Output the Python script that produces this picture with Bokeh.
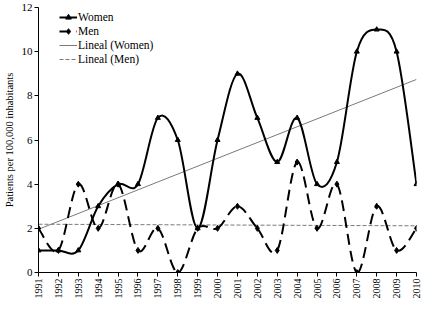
import numpy as np
from bokeh.plotting import figure
from bokeh.models import Range1d, Legend, LegendItem, FixedTicker, ColumnDataSource
from bokeh.embed import file_html
from bokeh.resources import INLINE

years = list(range(1991, 2011))
women = [1, 1, 1, 3, 4, 4, 7, 6, 2, 6, 9, 7, 5, 7, 4, 5, 10, 11, 10, 4]
men = [2, 1, 4, 2, 4, 1, 2, 0, 2, 2, 3, 2, 1, 5, 2, 4, 0, 3, 1, 2]
y_ticks = [0, 2, 4, 6, 8, 10, 12]

FONT = "Liberation Serif"


def smooth_segments(xs, ys, k=1.0 / 6.0):
    x = np.asarray(xs, dtype=float)
    y = np.asarray(ys, dtype=float)
    xp = np.concatenate([[x[0]], x, [x[-1]]])
    yp = np.concatenate([[y[0]], y, [y[-1]]])
    n = len(x)
    i = np.arange(n - 1)
    return dict(
        x0=x[:-1], y0=y[:-1], x1=x[1:], y1=y[1:],
        cx0=x[i] + (xp[i + 2] - xp[i]) * k, cy0=y[i] + (yp[i + 2] - yp[i]) * k,
        cx1=x[i + 1] - (xp[i + 3] - xp[i + 1]) * k, cy1=y[i + 1] - (yp[i + 3] - yp[i + 1]) * k,
    )


p = figure(frame_width=378, frame_height=265, output_backend="svg", toolbar_location=None,
           x_range=Range1d(1991, 2010), y_range=Range1d(0, 12),
           min_border_left=35, min_border_right=5, min_border_top=7, min_border_bottom=28)
p.grid.visible = False
p.outline_line_color = None
p.background_fill_color = "white"

# trend lines
cw = np.polyfit(years, women, 1)
cm = np.polyfit(years, men, 1)
tx = [years[0], years[-1]]
tw = p.line(tx, [cw[0] * t + cw[1] for t in tx], line_color="#7a7a7a", line_width=1)
tm = p.line(tx, [cm[0] * t + cm[1] for t in tx], line_color="#7a7a7a", line_width=1, line_dash="4 2")

sw = ColumnDataSource(smooth_segments(years, women))
sm = ColumnDataSource(smooth_segments(years, men))
bw = p.bezier(x0="x0", y0="y0", x1="x1", y1="y1", cx0="cx0", cy0="cy0", cx1="cx1", cy1="cy1",
              source=sw, line_color="black", line_width=2)
bm = p.bezier(x0="x0", y0="y0", x1="x1", y1="y1", cx0="cx0", cy0="cy0", cx1="cx1", cy1="cy1",
              source=sm, line_color="black", line_width=2, line_dash="11 6")
mw = p.scatter(years, women, marker="triangle", size=5, color="black")
mm = p.scatter(years, men, marker="diamond", size=6, color="black")

legend = Legend(items=[
    LegendItem(label="Women", renderers=[bw, mw]),
    LegendItem(label="Men", renderers=[bm, mm]),
    LegendItem(label="Lineal (Women)", renderers=[tw]),
    LegendItem(label="Lineal (Men)", renderers=[tm]),
], location=(21, 206), padding=0, spacing=0, margin=0,
    glyph_width=18, glyph_height=14, label_height=14, label_standoff=1,
    label_text_font=FONT, label_text_font_size="11.5px", label_text_color="black",
    border_line_alpha=0, background_fill_alpha=0)
p.add_layout(legend)

# axes
p.xaxis.ticker = FixedTicker(ticks=years)
p.xaxis.major_label_orientation = np.pi / 2
p.yaxis.ticker = FixedTicker(ticks=y_ticks)
for ax in (p.xaxis, p.yaxis):
    ax.axis_line_color = "black"
    ax.major_tick_line_color = "black"
    ax.major_tick_out = 4
    ax.major_tick_in = 0
    ax.minor_tick_line_color = None
    ax.major_label_text_font = FONT
    ax.major_label_text_color = "black"
    ax.major_label_standoff = 2
p.xaxis.major_label_text_font_size = "10px"
p.yaxis.major_label_text_font_size = "11px"
p.yaxis.axis_label = "Patients per 100,000 inhabitants"
p.yaxis.axis_label_text_font = FONT
p.yaxis.axis_label_text_font_size = "10.5px"
p.yaxis.axis_label_text_font_style = "normal"
p.yaxis.axis_label_text_color = "black"
p.yaxis.axis_label_standoff = 4

open("out.html", "w").write(file_html(p, INLINE))
